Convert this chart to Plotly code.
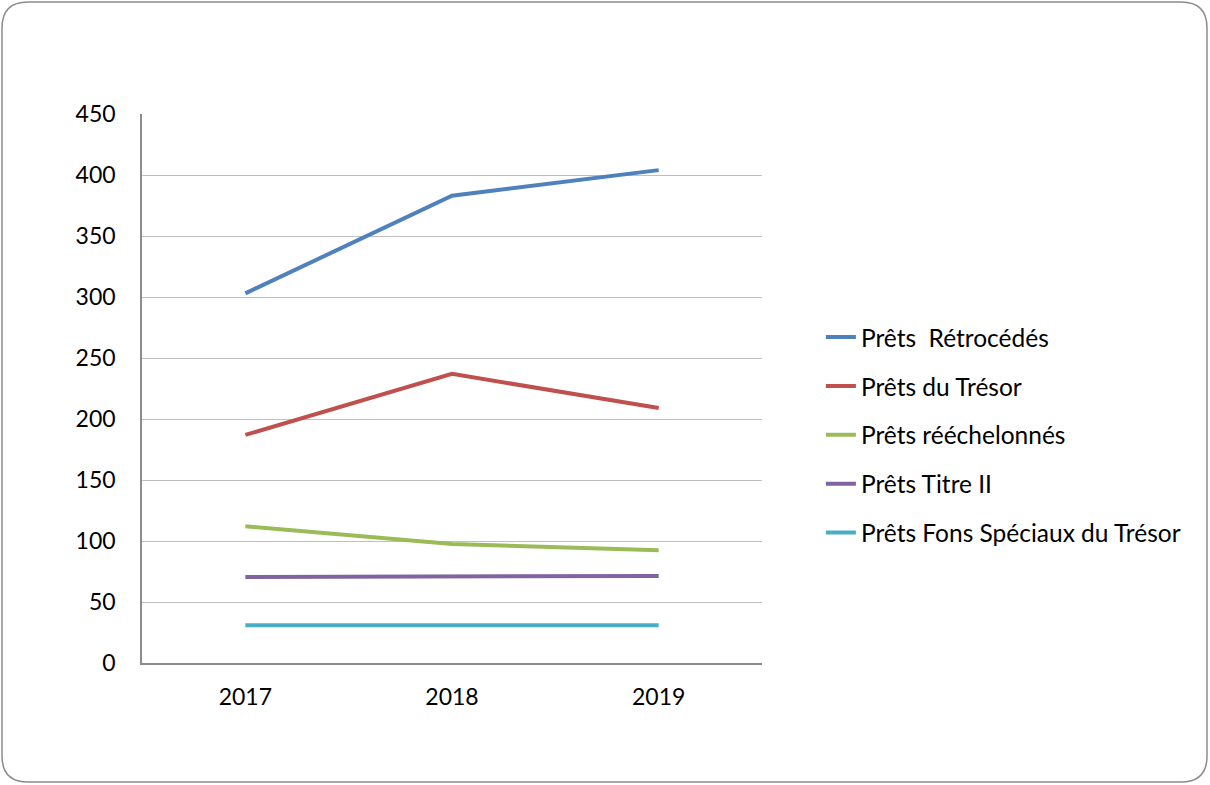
import plotly.graph_objects as go

years = ["2017", "2018", "2019"]
retrocedes = [303, 383, 404]
tresor = [187, 237, 209]
reechelonnes = [112, 97.5, 92.5]
titre_ii = [70.5, 71.3, 71.3]
fons_speciaux = [31, 31, 31]

series = [
    ("Prêts  Rétrocédés", retrocedes, "#4f81bd"),
    ("Prêts du Trésor", tresor, "#c0504d"),
    ("Prêts rééchelonnés", reechelonnes, "#9bbb59"),
    ("Prêts Titre II", titre_ii, "#8064a2"),
    ("Prêts Fons Spéciaux du Trésor", fons_speciaux, "#4bacc6"),
]

W, H = 1210, 785
L, R, T, B = 142, 448, 114, 122
PW, PH = W - L - R, H - T - B


def px(x, y):
    # pixel position -> paper coordinates
    return (x - L) / PW, (H - B - y) / PH


def rounded_rect(x0, y0, x1, y1, r):
    pts = []
    def p(x, y):
        a, b = px(x, y)
        return f"{a:.5f},{b:.5f}"
    pts.append("M " + p(x0 + r, y0))
    pts.append("L " + p(x1 - r, y0))
    pts.append("Q " + p(x1, y0) + " " + p(x1, y0 + r))
    pts.append("L " + p(x1, y1 - r))
    pts.append("Q " + p(x1, y1) + " " + p(x1 - r, y1))
    pts.append("L " + p(x0 + r, y1))
    pts.append("Q " + p(x0, y1) + " " + p(x0, y1 - r))
    pts.append("L " + p(x0, y0 + r))
    pts.append("Q " + p(x0, y0) + " " + p(x0 + r, y0))
    return " ".join(pts) + " Z"


fig = go.Figure()
for i, (name, vals, color) in enumerate(series):
    fig.add_trace(go.Scatter(x=years, y=vals, name=name, mode="lines",
                             line={"color": color, "width": 4}, legendgroup=str(i)))

fig.add_shape(type="path", xref="paper", yref="paper",
              path=rounded_rect(2, 2, 1207, 782, 26),
              line={"color": "#8c8c8c", "width": 1.5}, layer="below")

fig.update_layout(
    width=W, height=H,
    margin={"l": L, "r": R, "t": T, "b": B},
    paper_bgcolor="white", plot_bgcolor="white",
    font={"family": "Lato, Calibri, sans-serif", "size": 23, "color": "#000000"},
    showlegend=True,
    legend={"x": 1.095, "y": 0.415, "xanchor": "left", "yanchor": "middle",
            "tracegroupgap": 14, "font": {"size": 24.5}, "bgcolor": "rgba(0,0,0,0)"},
    xaxis={"type": "category", "range": [-0.5, 2.5], "showgrid": False,
           "showline": True, "linecolor": "#8c8c8c", "linewidth": 1.5,
           "ticks": "", "ticklabelstandoff": 13},
    yaxis={"range": [0, 450], "dtick": 50, "showgrid": True, "gridcolor": "#bfbfbf",
           "gridwidth": 1, "showline": True, "linecolor": "#8c8c8c", "linewidth": 1.5,
           "zeroline": False, "ticks": "", "ticklabelstandoff": 20},
)

fig.write_html("out.html", config={"displayModeBar": False},
               post_script="document.body.style.margin = '0';")
